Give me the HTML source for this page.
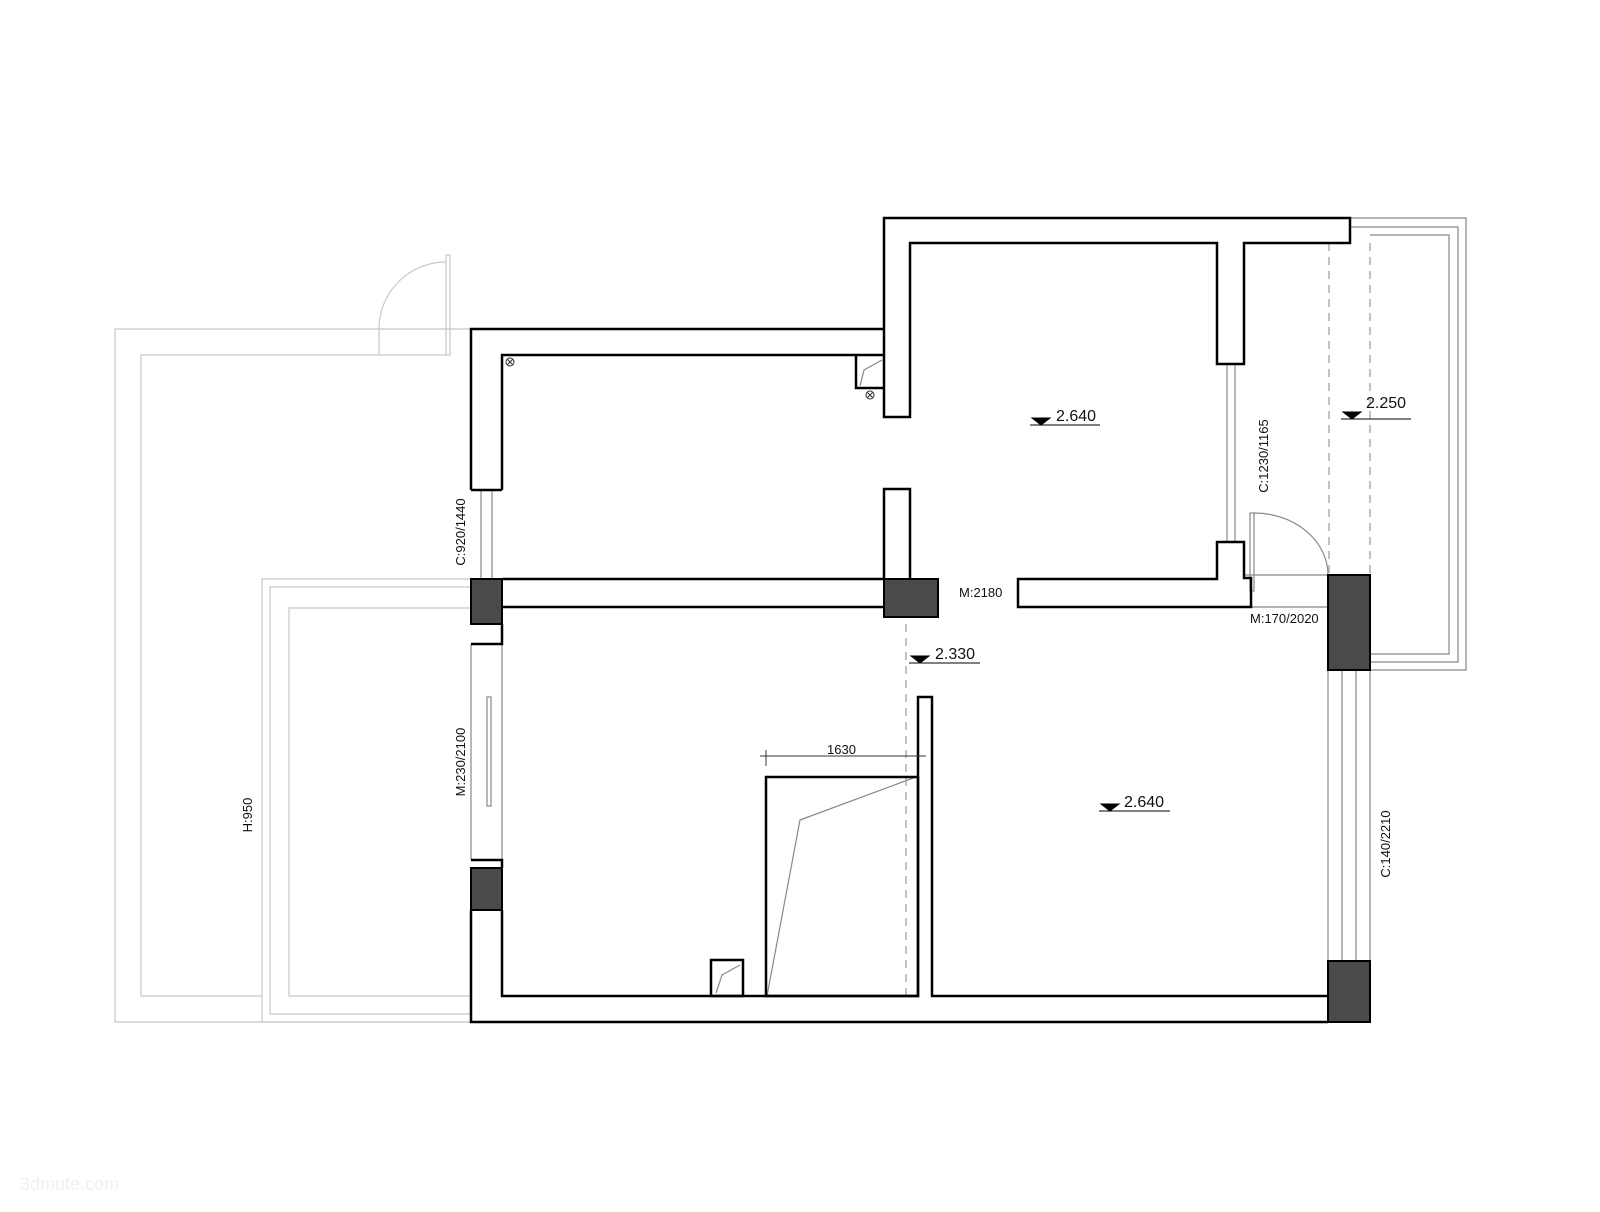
<!DOCTYPE html>
<html><head><meta charset="utf-8"><style>html,body{margin:0;padding:0;background:#fff}svg{display:block}text{font-family:"Liberation Sans",sans-serif;fill:#111}</style></head><body>
<svg width="1600" height="1212" viewBox="0 0 1600 1212" xmlns="http://www.w3.org/2000/svg">
<g fill="none" stroke="#c8c8c8" stroke-width="1.2">
<path d="M471 329 H115 V1022 H471"/>
<path d="M446 355 H141 V996 H262"/>
<path d="M379 355 V329 A67 67 0 0 1 446 262"/>
<rect x="446" y="255" width="4" height="100"/>
<path d="M471 579 H262 V1022 H471"/>
<path d="M471 587 H270 V1014 H471"/>
<path d="M471 608 H289 V996 H471"/>
</g>
<g fill="none" stroke="#888" stroke-width="1.2">
<path d="M1350 218 H1466 V670 H1370"/>
<path d="M1350 227 H1458 V662 H1370"/>
<path d="M1370 235 H1449 V654 H1370"/>
<line x1="481" y1="490" x2="481" y2="579"/><line x1="492" y1="490" x2="492" y2="579"/>
<line x1="1227" y1="364" x2="1227" y2="542"/><line x1="1235" y1="364" x2="1235" y2="542"/>
<line x1="1342" y1="670" x2="1342" y2="961"/><line x1="1356" y1="670" x2="1356" y2="961"/>
<line x1="1328" y1="670" x2="1328" y2="961"/><line x1="1370" y1="670" x2="1370" y2="961"/>
<line x1="471" y1="644" x2="471" y2="860"/><line x1="502" y1="644" x2="502" y2="860"/>
<rect x="487" y="697" width="4" height="109"/>
<rect x="1250" y="513" width="4" height="78"/>
<path d="M1254 513 A74 62 0 0 1 1328 575"/>
<line x1="1244" y1="575" x2="1328" y2="575"/><line x1="1251" y1="607" x2="1328" y2="607"/>
<path d="M767 996 L800 820 L916 777"/>
<path d="M716 993 L722 975 L740 965"/>
<path d="M860 386 L864 370 L882 360"/>
</g>
<g fill="none" stroke="#999" stroke-width="1.2" stroke-dasharray="8 6">
<line x1="1329" y1="243" x2="1329" y2="575"/><line x1="1370" y1="243" x2="1370" y2="575"/>
<line x1="906" y1="624" x2="906" y2="996"/>
</g>
<g fill="none" stroke="#000" stroke-width="2.5">
<path d="M884 417 V218 H1350 V243 H1244 V364 H1217 V243 H910 V417 Z"/>
<path d="M471 490 V329 H884 M502 490 V355 H884"/>
<path d="M471 490 H502"/>
<path d="M856 355 V388 H884"/>
<path d="M884 579 V489 H910 V579"/>
<path d="M502 579 H884 M502 607 H884"/>
<path d="M1217 542 H1244 V578 H1251 V607 H1018 V579 H1217 Z"/>
<path d="M471 644 H502 V624"/>
<path d="M471 860 H502 V868"/>
<path d="M471 910 V1022 H1328 M502 910 V996 H918 V697 H932 V996 H1328"/>
<rect x="766" y="777" width="152" height="219"/>
<rect x="711" y="960" width="32" height="36"/>
</g>
<g fill="#4a4a4a" stroke="#000" stroke-width="2">
<rect x="471" y="579" width="31" height="45"/>
<rect x="884" y="579" width="54" height="38"/>
<rect x="1328" y="575" width="42" height="95"/>
<rect x="1328" y="961" width="42" height="61"/>
<rect x="471" y="868" width="31" height="42"/>
</g>
<g fill="none" stroke="#333" stroke-width="1">
<circle cx="510" cy="362" r="4"/><path d="M507 359 L513 365 M513 359 L507 365"/>
<circle cx="870" cy="395" r="4"/><path d="M867 392 L873 398 M873 392 L867 398"/>
<line x1="760" y1="756" x2="926" y2="756"/><line x1="766" y1="750" x2="766" y2="766"/>
</g>
<g stroke="#000" stroke-width="1">
<line x1="1030" y1="425" x2="1100" y2="425"/><path d="M1032 418 H1050 L1041 425 Z"/>
<line x1="909" y1="663" x2="980" y2="663"/><path d="M911 656 H929 L920 663 Z"/>
<line x1="1099" y1="811" x2="1170" y2="811"/><path d="M1101 804 H1119 L1110 811 Z"/>
<line x1="1341" y1="419" x2="1411" y2="419"/><path d="M1343 412 H1361 L1352 419 Z"/>
</g>
<g font-size="16">
<text x="1056" y="421">2.640</text>
<text x="935" y="659">2.330</text>
<text x="1124" y="807">2.640</text>
<text x="1366" y="408">2.250</text>
</g>
<g font-size="13">
<text x="959" y="597">M:2180</text>
<text x="1250" y="623">M:170/2020</text>
<text x="827" y="754">1630</text>
<text transform="translate(1268,456) rotate(-90)" text-anchor="middle">C:1230/1165</text>
<text transform="translate(465,532) rotate(-90)" text-anchor="middle">C:920/1440</text>
<text transform="translate(465,762) rotate(-90)" text-anchor="middle">M:230/2100</text>
<text transform="translate(252,815) rotate(-90)" text-anchor="middle">H:950</text>
<text transform="translate(1390,844) rotate(-90)" text-anchor="middle">C:140/2210</text>
</g>
<text x="20" y="1190" font-size="18" style="fill:#f0f0f0">3dmute.com</text>
</svg>
</body></html>
